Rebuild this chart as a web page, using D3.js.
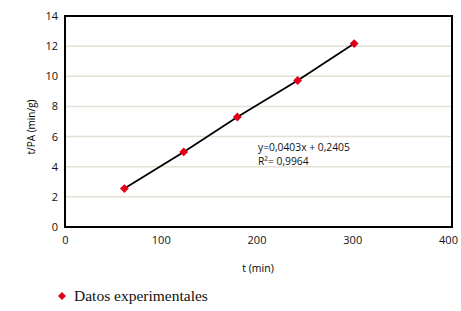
<!DOCTYPE html>
<html>
<head>
<meta charset="utf-8">
<script src="https://cdn.jsdelivr.net/npm/d3@7"></script>
<style>
  body { margin: 0; background: #fff; }
  svg text { font-family: "Open Sans", "DejaVu Sans", sans-serif; }
</style>
</head>
<body>
<script>
// data
const tMin = [62, 124, 180, 243, 302];
const tPA = [2.55, 4.98, 7.3, 9.72, 12.17];
const xTicks = [0, 100, 200, 300, 400];
const yTicks = [0, 2, 4, 6, 8, 10, 12, 14];
const equationLines = ["y=0,0403x + 0,2405", "R²= 0,9964"];
const legendLabel = "Datos experimentales";

const width = 461, height = 311;
const plotLeft = 65, plotRight = 452, plotTop = 16, plotBottom = 227;

const svg = d3.select("body").append("svg")
    .attr("width", width)
    .attr("height", height);

const x = d3.scaleLinear().domain([0, 400]).range([plotLeft, plotRight - 4]);
const y = d3.scaleLinear().domain([0, 14]).range([plotBottom, plotTop]);

// gridlines
svg.append("g")
    .selectAll("line")
    .data(yTicks.filter(d => d > 0 && d < 14))
    .enter().append("line")
    .attr("x1", plotLeft).attr("x2", plotRight)
    .attr("y1", d => y(d)).attr("y2", d => y(d))
    .attr("stroke", "#e3e0d6")
    .attr("stroke-width", 1.5);

// axes (labels only, box drawn separately)
svg.append("g")
    .attr("transform", "translate(" + plotLeft + ",0)")
    .call(d3.axisLeft(y).tickValues(yTicks).tickSize(0).tickPadding(7))
    .call(g => g.select(".domain").remove())
    .selectAll("text")
    .style("font-size", "11px")
    .attr("fill", "#111");

svg.append("g")
    .attr("transform", "translate(0," + plotBottom + ")")
    .call(d3.axisBottom(x).tickValues(xTicks).tickSize(0).tickPadding(9))
    .call(g => g.select(".domain").remove())
    .selectAll("text")
    .style("font-size", "11px")
    .attr("fill", "#111");

// plot border
svg.append("rect")
    .attr("x", plotLeft).attr("y", plotTop)
    .attr("width", plotRight - plotLeft).attr("height", plotBottom - plotTop)
    .attr("fill", "none")
    .attr("stroke", "#000")
    .attr("stroke-width", 2);

// axis titles
svg.append("text")
    .attr("transform", "translate(35,127) rotate(-90)")
    .attr("text-anchor", "middle")
    .style("font-size", "10px")
    .text("t/PA (min/g)");

svg.append("text")
    .attr("x", 258).attr("y", 272)
    .attr("text-anchor", "middle")
    .style("font-size", "10.5px")
    .text("t (min)");

// line through the points
const pts = tMin.map((d, i) => [d, tPA[i]]);
svg.append("path")
    .datum(pts)
    .attr("d", d3.line().x(d => x(d[0])).y(d => y(d[1])))
    .attr("fill", "none")
    .attr("stroke", "#000")
    .attr("stroke-width", 1.8);

// markers
const diamond = d3.symbol().type(d3.symbolDiamond2).size(50);
svg.append("g")
    .selectAll("path")
    .data(pts)
    .enter().append("path")
    .attr("d", diamond)
    .attr("transform", d => "translate(" + x(d[0]) + "," + y(d[1]) + ")")
    .attr("fill", "#e1001a");

// equation
svg.append("g")
    .selectAll("text")
    .data(equationLines)
    .enter().append("text")
    .attr("x", 258)
    .attr("y", (d, i) => 151 + i * 14)
    .style("font-size", "10.3px")
    .attr("fill", "#111")
    .text(d => d);

// legend
svg.append("path")
    .attr("d", d3.symbol().type(d3.symbolDiamond2).size(40))
    .attr("transform", "translate(62,296)")
    .attr("fill", "#e1001a");
svg.append("text")
    .attr("x", 74).attr("y", 301)
    .style("font-family", "'Liberation Serif', serif")
    .style("font-size", "15.5px")
    .attr("fill", "#111")
    .text(legendLabel);
</script>
</body>
</html>
